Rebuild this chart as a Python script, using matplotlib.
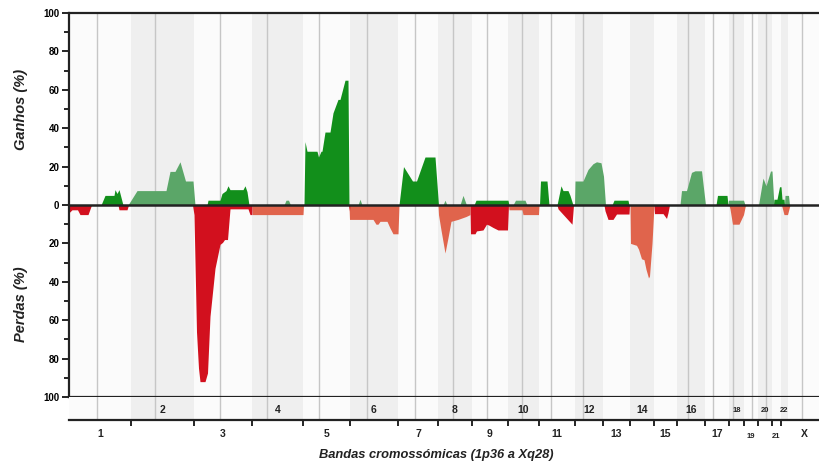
import numpy as np
import matplotlib
matplotlib.use("Agg")
from matplotlib import pyplot as plt

plt.rcParams["font.family"] = ["Liberation Sans", "DejaVu Sans"]

# chromosome sizes in bands (x units), names and centromere positions
chrom_names = ['1', '2', '3', '4', '5', '6', '7', '8', '9', '10', '11', '12',
               '13', '14', '15', '16', '17', '18', '19', '20', '21', '22', 'X']
chrom_sizes = [62, 63, 58, 51, 47, 48, 40, 34, 36, 31, 36, 28,
               27, 24, 23, 28, 24, 15, 14, 14, 9, 7, 32]
centromeres = [28, 86, 151, 198, 250, 298, 346, 384, 418, 453, 482, 514,
               619, 644, 664, 683, 697, 733]

# gains (%), strong (dark green)
gain_dark_x = [32, 36, 45, 46, 48, 50, 52, 54,
               138, 139, 151, 153, 157, 159, 161, 174, 176, 178, 180,
               235, 236, 238, 248, 249.5, 252, 253, 256, 261, 264, 269, 271, 273.5, 276, 279, 280,
               330, 334.5, 343.5, 347.5, 356, 366, 369.5,
               405, 407, 439, 440,
               470.5, 471.5, 478, 480, 488, 492, 494, 499, 501, 504,
               543, 545, 559, 560,
               647, 648.5, 658, 659,
               704.5, 705, 708, 710.5, 712, 713, 715, 715.5]
gain_dark_y = [0, 5, 5, 8, 6, 8, 4, 0,
               0, 2.5, 2.5, 6, 7.5, 10, 8, 8, 10, 7, 0,
               0, 33, 28, 28, 25, 28, 28, 38, 38, 48, 55, 55, 60, 65, 65, 0,
               0, 20, 12.5, 12.5, 25, 25, 0,
               0, 2.5, 2.5, 0,
               0, 12.5, 12.5, 0, 0, 10, 7.5, 7.5, 5, 0,
               0, 2.5, 2.5, 0,
               0, 5, 5, 0,
               0, 3, 3, 9.5, 9.5, 3, 3, 0]

# gains (%), light green
gain_light_x = [59, 62, 68, 97, 101, 106, 111, 116.5, 124, 126,
                215, 217, 219.5, 221.5,
                289, 291, 293,
                374, 376, 378, 391, 394, 397.5,
                444, 446.5, 456, 458,
                505.5, 506, 514, 519, 524, 527.5, 532, 534.5, 536.5,
                611, 612.5, 617.5, 622.5, 626, 632.5, 636.5,
                659, 659.5, 674.5, 676,
                689.5, 694, 697, 701.5, 703, 704.5, 705,
                715.5, 716, 719.5, 720.5]
gain_light_y = [0, 2.5, 7.5, 7.5, 17.5, 17.5, 22.5, 12.5, 12.5, 0,
                0, 2.5, 2.5, 0,
                0, 3, 0,
                0, 2.5, 0, 0, 5, 0,
                0, 2.5, 2.5, 0,
                0, 12.5, 12.5, 18.5, 21.5, 22.5, 22, 15, 0,
                0, 7.5, 7.5, 17, 17.8, 17.8, 0,
                0, 2.5, 2.5, 0,
                0, 14, 10, 17.7, 17.7, 4, 0,
                0, 5, 5, 0]

# losses (%), strong (dark red)
loss_dark_x = [0, 3, 8.5, 11, 19, 22.5,
               49, 50, 58, 59.5,
               123.5, 125, 127.5, 129.5, 131, 136, 138.5, 141, 146, 151, 153.5, 155.5,
               158.5, 161, 179, 181, 183, 183.01,
               279.5, 280.5, 281,
               401, 401.5, 406, 407.5, 414, 417.5, 420, 424, 429, 438.5, 439.5,
               488, 489, 496, 503, 504.5,
               535, 536, 539, 544, 547.5, 560, 560.5,
               585, 585.5, 594, 597.5, 599, 600.5]
loss_dark_y = [4, 2.5, 2.5, 5, 5, 0,
               0, 2.5, 2.5, 0,
               0, 5, 66, 85, 92, 92, 87.5, 58, 33, 20.5, 19.5, 18,
               18, 2, 2, 5, 5, 0,
               0, 3, 0,
               0, 15, 15, 13.5, 13, 10, 10.5, 11.7, 13, 13, 0,
               0, 2, 6, 10, 0,
               0, 3, 7.5, 7.5, 4.7, 4.7, 0,
               0, 4.5, 4.5, 7, 4, 0]

# losses (%), light red
loss_light_x = [183, 183.5, 234, 234.5,
                280, 280.5, 304, 307, 309, 311, 318, 321, 324, 329, 330,
                369, 369.5, 372, 376, 379, 382, 389, 397, 401, 401.01,
                439.5, 440, 453, 454, 469.5, 470,
                561, 561.5, 567.5, 569.5, 572.5, 575, 577, 579.5, 580.5, 583, 584.5, 585,
                660, 661, 663.5, 670, 674.5, 676.5,
                712.5, 715, 718.5, 721]
loss_light_y = [0, 5, 5, 0,
                0, 7.5, 7.5, 10, 10, 8.5, 8.5, 12, 15, 15, 0,
                0, 5, 13, 25, 17, 8.5, 7.5, 6, 5, 0,
                0, 2.5, 2.5, 5, 5, 0,
                0, 20, 21, 23, 28, 28.5, 33.5, 38, 37, 20, 5, 0,
                0, 2, 10, 10, 5, 0,
                0, 5, 5, 0]

W, H = 820, 467
fig = plt.figure(figsize=(W / 100, H / 100), dpi=100)
ax = fig.add_axes([69 / W, 1 - 397 / H, (W - 69) / W, (397 - 13) / H])
ax2 = fig.add_axes([69 / W, 1 - 420 / H, (W - 69) / W, (420 - 397) / H])

starts = np.concatenate([[0], np.cumsum(chrom_sizes)[:-1]])
ends = np.cumsum(chrom_sizes)
mids = (starts + ends) / 2
total = ends[-1]

for a in (ax, ax2):
    a.set_facecolor('#fbfbfb')
    a.set_xlim(0, total)
    for i in range(len(chrom_names)):
        if i % 2 == 1:
            a.axvspan(starts[i], ends[i], color='#efefef', lw=0, zorder=0)
    for c in centromeres:
        a.axvline(c, color='#c6c6c6', lw=1, zorder=1)

dark_green, light_green = '#128f1b', '#5ba668'
dark_red, light_red = '#d2101e', '#e0644c'
ax.fill_between(gain_light_x, 0, gain_light_y, color=light_green, lw=0, zorder=2)
ax.fill_between(gain_dark_x, 0, gain_dark_y, color=dark_green, lw=0, zorder=2)
ax.fill_between(loss_light_x, 0, -np.array(loss_light_y), color=light_red, lw=0, zorder=2)
ax.fill_between(loss_dark_x, 0, -np.array(loss_dark_y), color=dark_red, lw=0, zorder=2)
ax.axhline(0, color='#222222', lw=1.8, zorder=3)

ax.set_ylim(-100, 100)
yt = np.arange(-100, 101, 20)
ax.set_yticks(yt)
ax.set_yticklabels([str(abs(v)) for v in yt], fontsize=7, fontweight='bold')
ax.set_yticks(np.arange(-90, 100, 20), minor=True)
ax.tick_params(axis='y', which='major', length=5, width=1.2, pad=2)
ax.tick_params(axis='y', which='minor', length=3.5, width=1.2)
ax.set_xticks([])
for s in ('top', 'left', 'bottom'):
    ax.spines[s].set_linewidth(1.6)
    ax.spines[s].set_color('#222222')
ax.spines['right'].set_visible(False)

ax2.set_ylim(0, 1)
ax2.set_yticks([])
ax2.set_xticks(ends[:-2])
ax2.set_xticklabels([])
ax2.tick_params(axis='x', length=4, width=1.2)
for s in ('top', 'left', 'right'):
    ax2.spines[s].set_visible(False)
ax2.spines['bottom'].set_linewidth(1.6)
ax2.spines['bottom'].set_color('#222222')

small = {'18', '19', '20', '21', '22'}
for i, name in enumerate(chrom_names):
    fs = 5.5 if name in small else 7.5
    if i % 2 == 1:
        ax2.text(mids[i], 0.42, name, ha='center', va='center', fontsize=fs,
                 fontweight='bold', color='#222222')
    else:
        yy = -0.6 if name not in small else -0.72
        ax2.text(mids[i], yy, name, ha='center', va='center', fontsize=fs,
                 fontweight='bold', color='#222222', clip_on=False)

fig.text(21 / W, 1 - 109 / H, 'Ganhos (%)', rotation=90, ha='center', va='center',
         fontsize=10.5, fontweight='bold', fontstyle='italic', color='#222222')
fig.text(21 / W, 1 - 304 / H, 'Perdas (%)', rotation=90, ha='center', va='center',
         fontsize=10.5, fontweight='bold', fontstyle='italic', color='#222222')
fig.text(436 / W, 1 - 455 / H, 'Bandas cromossómicas (1p36 a Xq28)', ha='center',
         va='center', fontsize=9.3, fontweight='bold', fontstyle='italic', color='#222222')

fig.savefig('out.png', dpi=100)
